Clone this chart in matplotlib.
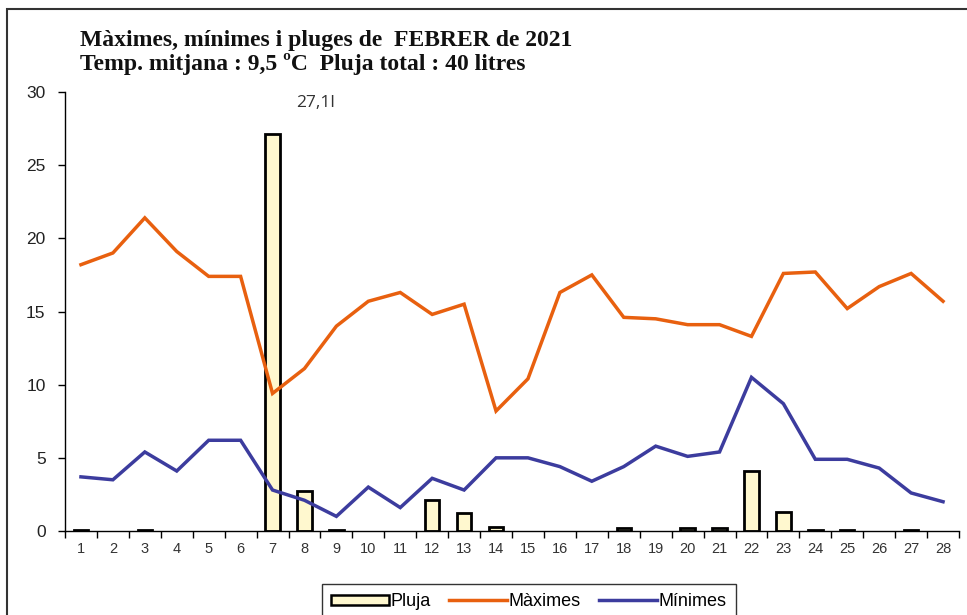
import matplotlib
matplotlib.use("Agg")
import matplotlib.pyplot as plt
from matplotlib.patches import Rectangle, Patch
from matplotlib.lines import Line2D
import numpy as np

days = list(range(1, 29))
maxims = [18.2, 19.0, 21.4, 19.1, 17.4, 17.4, 9.4, 11.1, 14.0, 15.7, 16.3, 14.8, 15.5, 8.2,
          10.4, 16.3, 17.5, 14.6, 14.5, 14.1, 14.1, 13.3, 17.6, 17.7, 15.2, 16.7, 17.6, 15.7]
minims = [3.7, 3.5, 5.4, 4.1, 6.2, 6.2, 2.8, 2.1, 1.0, 3.0, 1.6, 3.6, 2.8, 5.0,
          5.0, 4.4, 3.4, 4.4, 5.8, 5.1, 5.4, 10.5, 8.7, 4.9, 4.9, 4.3, 2.6, 2.0]
pluja = [0.1, 0, 0.1, 0, 0, 0, 27.1, 2.7, 0.1, 0, 0, 2.1, 1.2, 0.3,
         0, 0, 0, 0.2, 0, 0.2, 0.2, 4.1, 1.3, 0.1, 0.1, 0, 0.1, 0]
yticks = [0, 5, 10, 15, 20, 25, 30]
title1 = "Màximes, mínimes i pluges de  FEBRER de 2021"
title2 = "Temp. mitjana : 9,5 ºC  Pluja total : 40 litres"
bar_label = "27,1l"

W, H = 967, 615
fig = plt.figure(figsize=(W / 100, H / 100), dpi=100)
ax = fig.add_axes([65 / W, 1 - 531 / H, (959 - 65) / W, (531 - 92) / H])

orange = "#E8600F"
blue = "#3C3C9E"
yellow = "#FFF8CF"

rain_days = [d for d, p in zip(days, pluja) if p > 0]
rain_vals = [p for p in pluja if p > 0]
ax.bar(rain_days, rain_vals, width=0.45, color=yellow, edgecolor="black", linewidth=2.0, zorder=2)
ax.plot(days, maxims, color=orange, linewidth=2.5, zorder=3, solid_joinstyle="miter")
ax.plot(days, minims, color=blue, linewidth=2.5, zorder=3, solid_joinstyle="miter")

imax = int(np.argmax(pluja))
ax.annotate(bar_label, xy=(days[imax], pluja[imax]), xytext=(43, 31),
            textcoords="offset pixels", ha="center", va="center",
            fontsize=12.5, color="#333333", family="Open Sans")

ax.set_xlim(0.5, 28.5)
ax.set_ylim(0, 30)
ax.set_yticks(yticks)
ax.set_yticklabels([str(v) for v in yticks], family="Liberation Sans", fontsize=12.5, color="#222222")
ax.set_xticks(np.arange(0.5, 29, 1))
ax.set_xticklabels([])
ax.set_xticks(days, minor=True)
ax.set_xticklabels([str(d) for d in days], minor=True, family="Liberation Sans", fontsize=10.5, color="#333333")
ax.tick_params(axis="x", which="major", direction="out", length=5, width=1)
ax.tick_params(axis="x", which="minor", length=0, pad=8)
ax.tick_params(axis="y", direction="out", length=5, width=1, pad=9)
for s in ["top", "right"]:
    ax.spines[s].set_visible(False)
for s in ["left", "bottom"]:
    ax.spines[s].set_linewidth(1)
    ax.spines[s].set_color("black")

fig.text(80 / W, 1 - 46 / H, title1, family="Liberation Serif", weight="bold",
         fontsize=17, va="baseline", ha="left", color="#111111")
fig.text(80 / W, 1 - 70 / H, title2, family="Liberation Serif", weight="bold",
         fontsize=17, va="baseline", ha="left", color="#111111")

# outer frame
fig.patches.append(Rectangle((7 / W, -0.1), 2, 1 - 9 / H + 0.1, transform=fig.transFigure,
                             fill=False, edgecolor="#333333", linewidth=1.5))

handles = [Patch(facecolor=yellow, edgecolor="black", linewidth=1.8),
           Line2D([], [], color=orange, linewidth=2.5),
           Line2D([], [], color=blue, linewidth=2.5)]
leg = fig.legend(handles, ["Pluja", "Màximes", "Mínimes"], loc="upper center",
                 bbox_to_anchor=(529 / W, 1 - 575 / H), ncol=3, frameon=True,
                 fancybox=False, edgecolor="black",
                 prop={"family": "Liberation Sans", "size": 13},
                 handlelength=3.2, handleheight=0.5, handletextpad=0.1, columnspacing=1.0,
                 borderpad=0.5)
leg.get_frame().set_linewidth(1)

fig.savefig("out.png", dpi=100)
